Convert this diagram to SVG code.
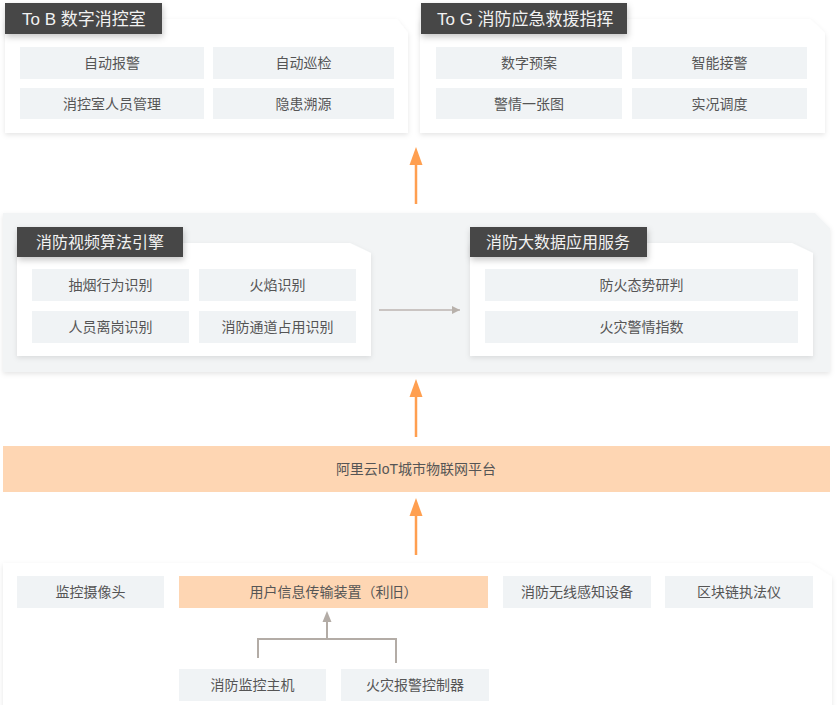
<svg xmlns="http://www.w3.org/2000/svg" width="837" height="705" viewBox="0 0 837 705">
<defs>
<filter id="sh" x="-5%" y="-10%" width="110%" height="125%">
<feDropShadow dx="0" dy="2" stdDeviation="2.5" flood-color="#000" flood-opacity="0.10"/>
</filter>
<filter id="tsh" x="-5%" y="-20%" width="115%" height="160%">
<feDropShadow dx="1" dy="3" stdDeviation="3" flood-color="#000" flood-opacity="0.22"/>
</filter>
<marker id="ga" viewBox="0 0 10 10" refX="10" refY="5" markerWidth="8" markerHeight="8" markerUnits="userSpaceOnUse" orient="auto">
<path d="M0,0 L10,5 L0,10 Z" fill="#b8b1ab"/>
</marker>
<marker id="ga2" viewBox="0 0 10 10" refX="10" refY="5" markerWidth="6" markerHeight="6" orient="auto">
<path d="M0,0 L10,5 L0,10 Z" fill="#b3aca6"/>
</marker>
</defs>
<style>
text{font-family:"Liberation Sans","Noto Sans CJK SC",sans-serif;}
.card{fill:#fff;filter:url(#sh);}
.band{fill:#f2f4f5;filter:url(#sh);}
.tab{fill:#474747;filter:url(#tsh);}
.tabt{fill:#f2f2f2;font-size:17px;}
.tabt2{fill:#f2f2f2;font-size:16px;}
.item{fill:#f0f3f5;}
.itemo{fill:#fed6b3;}
.it{fill:#555;font-size:14px;text-anchor:middle;}
.oa{stroke:#ff9f50;stroke-width:2.5;fill:none;}
.oh{fill:#ff9f50;}
.gl{stroke:#b3aca6;stroke-width:2;fill:none;}
</style>
<rect width="837" height="705" fill="#fff"/>

<g id="tob">
<path class="card" d="M5,19 H397 L408,33 V133 H5 Z"/>
<rect class="tab" x="5" y="3" width="157" height="31"/>
<text class="tabt" x="22" y="25">To B 数字消控室</text>
<rect class="item" x="20" y="47" width="184" height="32"/>
<text class="it" x="112" y="68">自动报警</text>
<rect class="item" x="213" y="47" width="181" height="32"/>
<text class="it" x="303.5" y="68">自动巡检</text>
<rect class="item" x="20" y="88" width="184" height="31"/>
<text class="it" x="112" y="108.5">消控室人员管理</text>
<rect class="item" x="213" y="88" width="181" height="31"/>
<text class="it" x="303.5" y="108.5">隐患溯源</text>
</g>

<g id="tog">
<path class="card" d="M420,19 H810 L825,33 V133 H420 Z"/>
<rect class="tab" x="421" y="3" width="206" height="31"/>
<text class="tabt" x="437" y="25">To G 消防应急救援指挥</text>
<rect class="item" x="436" y="47" width="186" height="32"/>
<text class="it" x="529" y="68">数字预案</text>
<rect class="item" x="632" y="47" width="175" height="32"/>
<text class="it" x="719.5" y="68">智能接警</text>
<rect class="item" x="436" y="88" width="186" height="31"/>
<text class="it" x="529" y="108.5">警情一张图</text>
<rect class="item" x="632" y="88" width="175" height="31"/>
<text class="it" x="719.5" y="108.5">实况调度</text>
</g>

<g id="middle">
<path class="band" d="M3,213 H815 L830,228 V372 H3 Z"/>
</g>

<g id="video">
<path class="card" d="M17,243 H350 L371,253 V356 H17 Z"/>
<rect class="tab" x="17" y="227" width="166" height="30"/>
<text class="tabt2" x="36" y="248">消防视频算法引擎</text>
<rect class="item" x="32" y="269" width="157" height="32"/>
<text class="it" x="110.5" y="290">抽烟行为识别</text>
<rect class="item" x="199" y="269" width="157" height="32"/>
<text class="it" x="277.5" y="290">火焰识别</text>
<rect class="item" x="32" y="311" width="157" height="32"/>
<text class="it" x="110.5" y="332">人员离岗识别</text>
<rect class="item" x="199" y="311" width="157" height="32"/>
<text class="it" x="277.5" y="332">消防通道占用识别</text>
</g>

<g id="bigdata">
<path class="card" d="M470,243 H792 L813,253 V356 H470 Z"/>
<rect class="tab" x="470" y="227" width="177" height="30"/>
<text class="tabt2" x="486" y="248">消防大数据应用服务</text>
<rect class="item" x="485" y="269" width="313" height="32"/>
<text class="it" x="641.5" y="290">防火态势研判</text>
<rect class="item" x="485" y="311" width="313" height="32"/>
<text class="it" x="641.5" y="332">火灾警情指数</text>
</g>

<g id="iot">
<rect class="itemo" x="3" y="446" width="827" height="46"/>
<text class="it" x="416" y="474">阿里云IoT城市物联网平台</text>
</g>

<g id="devices">
<path class="card" d="M3,563 H810 L832,577 V710 H3 Z"/>
<rect class="item" x="17" y="576" width="147" height="32"/>
<text class="it" x="90.5" y="597">监控摄像头</text>
<rect class="itemo" x="179" y="576" width="309" height="32"/>
<text class="it" x="333.5" y="597">用户信息传输装置（利旧）</text>
<rect class="item" x="503" y="576" width="148" height="32"/>
<text class="it" x="577" y="597">消防无线感知设备</text>
<rect class="item" x="665" y="576" width="148" height="32"/>
<text class="it" x="739" y="597">区块链执法仪</text>
<rect class="item" x="179" y="669" width="147" height="32"/>
<text class="it" x="252.5" y="690">消防监控主机</text>
<rect class="item" x="341" y="669" width="148" height="32"/>
<text class="it" x="415" y="690">火灾报警控制器</text>
</g>

<g id="connectors">
<line class="oa" x1="416" y1="204" x2="416" y2="162"/>
<polygon class="oh" points="416,147 409.5,165 422.5,165"/>
<line class="oa" x1="416" y1="437" x2="416" y2="394"/>
<polygon class="oh" points="416,379 409.5,397 422.5,397"/>
<line class="oa" x1="416" y1="555" x2="416" y2="513"/>
<polygon class="oh" points="416,498 409.5,516 422.5,516"/>
<line x1="379" y1="310" x2="460" y2="310" stroke="#bcb5b0" stroke-width="1.5" marker-end="url(#ga)"/>
<path class="gl" d="M258,658 V639 H396 V663"/>
<line class="gl" x1="327" y1="639" x2="327" y2="620"/>
<polygon points="327,611 322.5,622 331.5,622" fill="#b3aca6"/>
</g>
</svg>
